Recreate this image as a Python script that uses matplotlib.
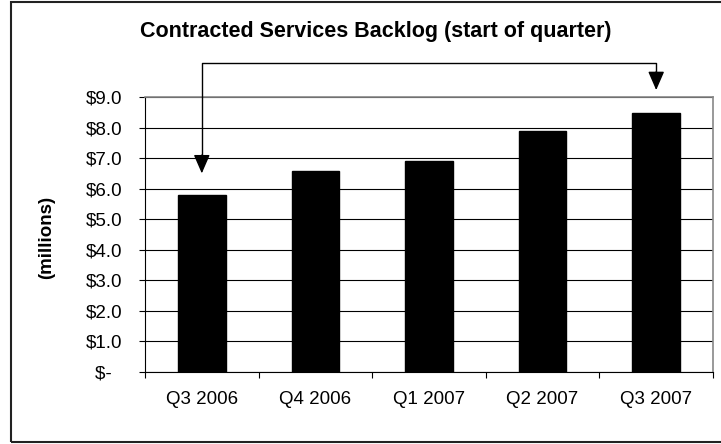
import matplotlib
matplotlib.use("Agg")
import matplotlib.pyplot as plt
from matplotlib.patches import Rectangle
from matplotlib.ticker import FixedLocator, FuncFormatter

plt.rcParams["font.family"] = ["Liberation Sans", "DejaVu Sans"]

quarters = ["Q3 2006", "Q4 2006", "Q1 2007", "Q2 2007", "Q3 2007"]
backlog = [5.8, 6.6, 6.9, 7.9, 8.5]  # $ millions

# arrow from first to last quarter (data units)
arrow_top = 10.12
arrow_left_tip = 6.51
arrow_right_tip = 9.24

W, H = 721, 444
fig = plt.figure(figsize=(W / 100, H / 100), dpi=100)
ax = fig.add_axes([145 / W, 1 - 372 / H, 568 / W, (372 - 97.4) / H])

x = list(range(len(quarters)))
ax.bar(x, backlog, width=0.42, color="black", edgecolor="black", zorder=3)

ax.set_xlim(-0.5, len(quarters) - 0.5)
ax.set_ylim(0, 9)

# gridlines
ax.set_yticks(range(0, 10))
ax.yaxis.grid(True, color="black", linewidth=0.8)
ax.set_axisbelow(True)


def money(v, pos):
    if v == 0:
        return "$-  "
    return f"${v:.1f}"


ax.yaxis.set_major_formatter(FuncFormatter(money))
ax.tick_params(axis="y", direction="out", length=4.3, width=0.8, pad=12,
               labelsize=13.5, colors="black")

# category boundaries as ticks, labels at centers
ax.xaxis.set_major_locator(FixedLocator([i - 0.5 for i in range(len(quarters) + 1)]))
ax.xaxis.set_minor_locator(FixedLocator(x))
ax.set_xticklabels([], minor=False)
ax.set_xticklabels(quarters, minor=True)
ax.tick_params(axis="x", which="major", direction="out", length=4.3, width=0.8)
ax.tick_params(axis="x", which="minor", length=0, pad=14, labelsize=13.5)

for side in ["top", "right"]:
    ax.spines[side].set_color("#888888")
    ax.spines[side].set_linewidth(1.2)
for side in ["left", "bottom"]:
    ax.spines[side].set_color("black")
    ax.spines[side].set_linewidth(0.8)

# connector arrow
ax.plot([x[0], x[0], x[-1], x[-1]],
        [arrow_left_tip + 0.3, arrow_top, arrow_top, arrow_right_tip + 0.3],
        color="black", linewidth=1.0, clip_on=False, zorder=5)
for xi, tip in [(x[0], arrow_left_tip), (x[-1], arrow_right_tip)]:
    ax.annotate("", xy=(xi, tip), xytext=(xi, tip + 0.6),
                arrowprops=dict(arrowstyle="-|>,head_length=1.15,head_width=0.5",
                                color="black", lw=1.0, shrinkA=0, shrinkB=0),
                annotation_clip=False)

fig.text(376 / W, 1 - 32 / H, "Contracted Services Backlog (start of quarter)",
         ha="center", va="center", fontsize=15.5, fontweight="bold")
fig.text(47 / W, 1 - 237 / H, "(millions)", rotation=90, ha="center",
         va="center", fontsize=13.5, fontweight="bold")

fig.patches.append(Rectangle((11 / W, 2 / H), 1.0, 440 / H, transform=fig.transFigure,
                             fill=False, edgecolor="#222222", linewidth=1.5))

fig.savefig("out.png", dpi=100)
